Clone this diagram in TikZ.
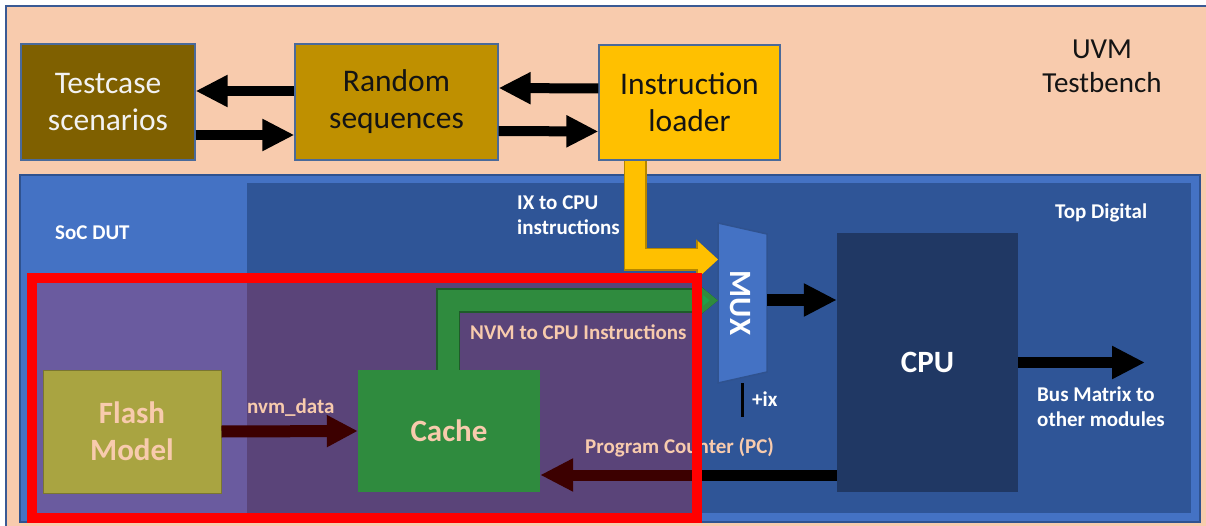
\documentclass[tikz,border=0pt]{standalone}
\usepackage{fontspec}
\setmainfont{Carlito}
\usetikzlibrary{arrows.meta,calc}

\definecolor{peach}{HTML}{F8CBAD}
\definecolor{frameblue}{HTML}{3A5A94}
\definecolor{boxedge}{HTML}{4A6A9A}
\definecolor{testc}{HTML}{7F6000}
\definecolor{rand}{HTML}{BF9000}
\definecolor{instr}{HTML}{FFC000}
\definecolor{instredge}{HTML}{B58600}
\definecolor{offwhite}{HTML}{F2F2F2}
\definecolor{darktext}{HTML}{141414}
\definecolor{soc}{HTML}{4472C4}
\definecolor{socedge}{HTML}{2F528F}
\definecolor{topd}{HTML}{2F5597}
\definecolor{cpuc}{HTML}{203864}
\definecolor{purpL}{HTML}{6A5B9F}
\definecolor{purpR}{HTML}{5A4479}
\definecolor{flashc}{HTML}{A9A441}
\definecolor{flashedge}{HTML}{7A7630}
\definecolor{cachec}{HTML}{2F8B3E}
\definecolor{greenedge}{HTML}{1E5C29}
\definecolor{greenhead}{HTML}{1FA04A}
\definecolor{maroon}{HTML}{3C0000}
\definecolor{framered}{HTML}{FF0000}

\begin{document}
\begin{tikzpicture}[x=1pt,y=-1pt,
  tbbox/.style={draw=boxedge, line width=1.2pt, align=center, inner sep=0pt,
    font=\fontsize{31.5}{37}\selectfont},
  toparrow/.style={draw=black, line width=10pt, -{Triangle[length=32pt,width=30pt]}},
  blockarrow/.style={draw=black, line width=11pt, -{Triangle[length=33pt,width=31pt]}},
  lbl/.style={font=\fontsize{21}{25}\selectfont\bfseries, inner sep=0pt, align=left},
  bigbold/.style={font=\fontsize{31}{37}\selectfont\bfseries, inner sep=0pt, align=center},
  region/.style={inner sep=0pt, outer sep=0pt}]

\useasboundingbox (0,0) rectangle (1206,526);
\fill[white] (0,0) rectangle (1206,526);
\fill[peach] (6,6) rectangle (1206,526);
\draw[frameblue, line width=2pt] (6,526) -- (6,6) -- (1206,6);

% ---- UVM testbench components ----
\node[tbbox, fill=testc, text=offwhite, minimum width=174pt, minimum height=116pt]
  (tc) at (108,102) {Testcase\\scenarios};
\node[tbbox, fill=rand, text=darktext, minimum width=203pt, minimum height=116pt]
  (rs) at (396.5,102) {Random\\sequences};
\node[tbbox, fill=instr, text=darktext, minimum width=181pt, minimum height=115pt]
  (il) at (689.5,102.5) {Instruction\\loader};

\draw[toparrow] ([yshift=11pt]rs.west) -- ([yshift=11pt]tc.east);
\draw[toparrow] ([yshift=-33pt]tc.east) -- ([yshift=-33pt]rs.west);
\draw[toparrow] ([yshift=14pt]il.west) -- ([yshift=14pt]rs.east);
\draw[toparrow] ([yshift=-29pt]rs.east) -- ([yshift=-29pt]il.west);

\node[align=center, inner sep=0pt, text=darktext, font=\fontsize{29}{34}\selectfont]
  (uvm) at (1102,66) {UVM\\Testbench};

% ---- SoC DUT and Top Digital ----
\node[region, fill=soc, draw=socedge, line width=1.5pt, minimum width=1180pt, minimum height=347pt]
  (soc) at (610,348.5) {};
\node[region, fill=topd, minimum width=944pt, minimum height=330pt]
  (topdig) at (719,348) {};

\node[lbl, text=white, anchor=west] (soclbl) at (55,233) {SoC DUT};
\node[lbl, text=white, anchor=west] (toplbl) at (1055,213) {Top Digital};
\node[lbl, text=white, anchor=west] (ixlbl) at (517,215) {IX to CPU\\instructions};

% ---- NVM subsystem area ----
\node[region, minimum width=665pt, minimum height=240pt] (nvmframe) at (364.5,398) {};
\fill[purpL] (nvmframe.north west) rectangle (247,518);
\fill[purpR] (247,278) rectangle (nvmframe.south east);

\node[bigbold, fill=flashc, draw=flashedge, line width=1pt, text=peach,
  minimum width=178pt, minimum height=123pt] (flash) at (132,431.5) {Flash\\Model};
\node[bigbold, fill=cachec, text=peach, minimum width=182pt, minimum height=122pt]
  (cache) at (449,431) {Cache};
\node[bigbold, fill=cpuc, text=white, minimum width=181pt, minimum height=259pt]
  (cpu) at (927.5,362.5) {CPU};

% ---- MUX ----
\node[region, minimum width=49pt, minimum height=160pt] (mux) at (742.5,303) {};
\draw[fill=soc, draw=socedge, line width=1.5pt]
  (mux.north west) -- ([yshift=-11pt]mux.north east) -- ([yshift=11pt]mux.south east)
  -- (mux.south west) -- cycle;
\node[bigbold, text=white, rotate=-90] (muxlbl) at ([xshift=-2pt]mux.center) {MUX};

% ---- instruction paths ----
\draw[draw=instredge, line width=23pt, line join=miter, -{Triangle[length=22pt,width=39pt]}]
  ([xshift=-54.5pt]il.south) |- ([yshift=43.5pt]mux.west);
\draw[draw=instr, line width=20pt, line join=miter, -{Triangle[length=20pt,width=35pt]}]
  ([xshift=-54.5pt]il.south) |- ([yshift=43.5pt]mux.west);

\draw[draw=greenedge, line width=24pt, line join=miter, -{Triangle[length=22pt,width=35pt]}]
  ([xshift=-1pt]cache.north) |- ([yshift=2.5pt]mux.west);
\draw[draw=cachec, line width=21pt, line join=miter, -{Triangle[length=20pt,width=31pt,fill=greenhead]}]
  ([xshift=-1pt]cache.north) |- ([yshift=2.5pt]mux.west);

\draw[blockarrow, draw=maroon, line width=12pt, -{Triangle[length=31pt,width=30pt]}]
  (flash.east) -- (cache.west);

\coordinate (pcy) at (0,475);
\draw[blockarrow, draw=maroon] (cpu.west |- pcy) -- (cache.east |- pcy);
\draw[draw=black, line width=11pt] (cpu.west |- pcy) -- (nvmframe.east |- pcy);

\draw[blockarrow] ([yshift=3pt]mux.east) -- ([yshift=3pt]mux.east -| cpu.west);

\coordinate (busend) at (1145,362.5);
\draw[blockarrow] (cpu.east) -- (busend);

\coordinate (ixend) at (742.5,417);
\draw[line width=3.5pt] (mux.south) -- (ixend);

% ---- labels ----
\node[lbl, text=peach, anchor=base west] (nvmlbl) at (470,339) {NVM to CPU Instructions};
\node[lbl, text=peach, anchor=base west] (datalbl) at (247,413) {nvm\_data};
\node[lbl, text=peach, anchor=base west] (pclbl) at (585,453) {Program Counter (PC)};
\node[lbl, text=white, anchor=base west] (ixplbl) at (752,406) {+ix};
\node[lbl, text=white, anchor=west] (buslbl) at (1037,407) {Bus Matrix to\\other modules};

% ---- highlight frame ----
\draw[framered, line width=10pt] (nvmframe.north west) rectangle (nvmframe.south east);

\end{tikzpicture}
\end{document}
